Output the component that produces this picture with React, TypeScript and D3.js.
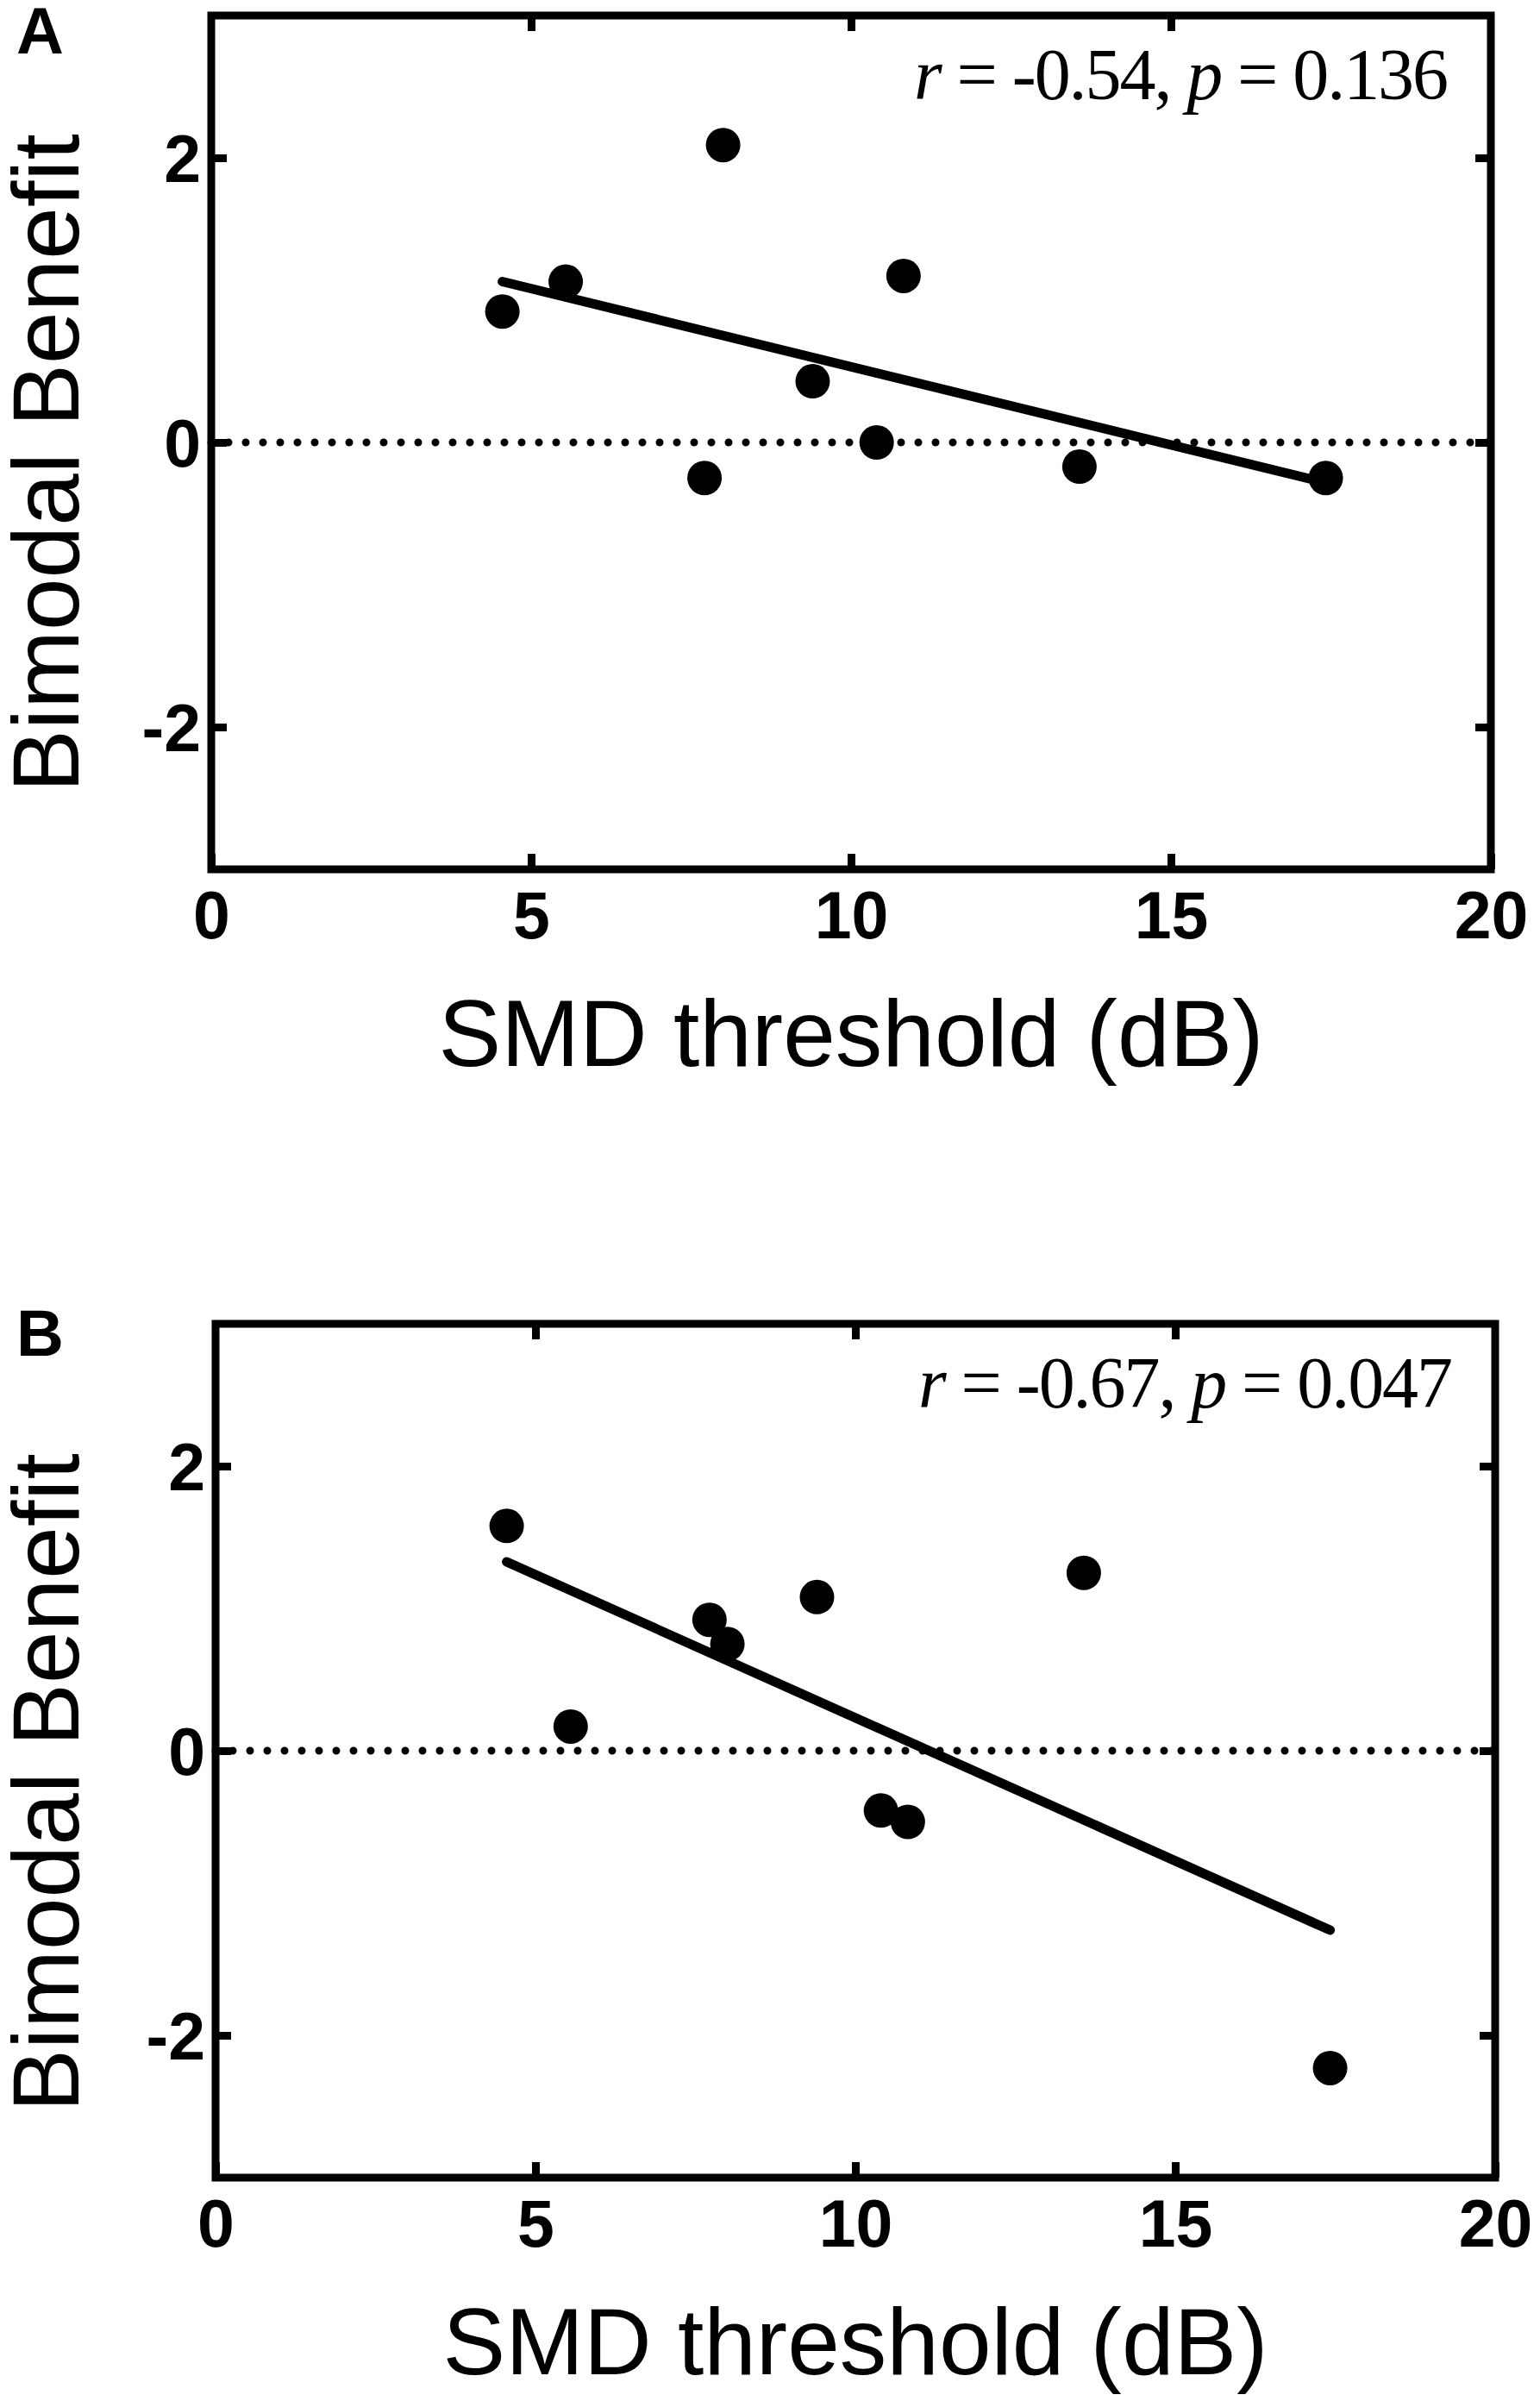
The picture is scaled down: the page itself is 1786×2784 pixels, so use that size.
import { useEffect, useRef } from 'react';
import * as d3 from 'd3';

// Panel A
const smdA = [4.55, 5.54, 8.0, 7.71, 9.4, 10.4, 10.82, 13.57, 17.42];
const benefitA = [0.92, 1.13, 2.09, -0.25, 0.43, 0.0, 1.17, -0.17, -0.25];
// Panel B
const smdB = [4.55, 5.55, 7.72, 8.0, 9.4, 10.4, 10.82, 13.57, 17.42];
const benefitB = [1.58, 0.17, 0.92, 0.75, 1.08, -0.42, -0.5, 1.25, -2.23];

const panelLabels = ['A', 'B'];
const rValues = ['-0.54', '-0.67'];
const pValues = ['0.136', '0.047'];

const xTicks = [0, 5, 10, 15, 20];
const yTicks = [-2, 0, 2];
const xTitle = 'SMD threshold (dB)';
const yTitle = 'Bimodal Benefit';

const W = 1786;
const H = 2784;
const plotW = 1484;
const plotH = 990;
const layout = [
  { left: 245, top: 18, labelY: 62, yTitleY: 537 },
  { left: 250, top: 1535, labelY: 1572, yTitleY: 2067 },
];

const SANS = '"Liberation Sans", Arial, sans-serif';
const SERIF = '"Liberation Serif", "Times New Roman", serif';

// least-squares fit across the observed x range
function fit(xs: number[], ys: number[]) {
  const mx = d3.mean(xs) as number;
  const my = d3.mean(ys) as number;
  const sxy = d3.sum(xs, (x, i) => (x - mx) * (ys[i] - my));
  const sxx = d3.sum(xs, x => (x - mx) ** 2);
  const slope = sxy / sxx;
  const [x0, x1] = d3.extent(xs) as [number, number];
  return [
    { x: x0, y: my + slope * (x0 - mx) },
    { x: x1, y: my + slope * (x1 - mx) },
  ];
}

export default function App() {
  const svgRef = useRef<SVGSVGElement>(null);

  useEffect(() => {
    if (!svgRef.current) return;
    const svg = d3.select(svgRef.current);
    svg.selectAll('*').remove();

    const series = [
      { xs: smdA, ys: benefitA },
      { xs: smdB, ys: benefitB },
    ];

    series.forEach((s, k) => {
      const L = layout[k];
      const x = d3.scaleLinear().domain([0, 20]).range([0, plotW]);
      const y = d3.scaleLinear().domain([-3, 3]).range([plotH, 0]);

      // Panel letter
      svg.append('text')
        .attr('x', 19)
        .attr('y', L.labelY)
        .attr('font-family', SANS)
        .attr('font-weight', 'bold')
        .attr('font-size', 76)
        .text(panelLabels[k]);

      // Y title
      svg.append('text')
        .attr('transform', `translate(91,${L.yTitleY}) rotate(-90)`)
        .attr('text-anchor', 'middle')
        .attr('font-family', SANS)
        .attr('font-size', 109)
        .text(yTitle);

      const g = svg.append('g').attr('transform', `translate(${L.left},${L.top})`);

      // zero reference line
      g.append('line')
        .attr('x1', x(0))
        .attr('x2', x(20))
        .attr('y1', y(0))
        .attr('y2', y(0))
        .attr('stroke', '#000')
        .attr('stroke-width', 9)
        .attr('stroke-linecap', 'round')
        .attr('stroke-dasharray', '0 20');

      const styleAxis = (sel: d3.Selection<SVGGElement, unknown, null, undefined>) => {
        sel.select('.domain').remove();
        sel.selectAll('.tick line').attr('stroke', '#000').attr('stroke-width', 9);
        sel.selectAll('.tick text')
          .attr('fill', '#000')
          .attr('font-family', SANS)
          .attr('font-weight', 'bold')
          .attr('font-size', 77);
      };

      const plain = (d: d3.NumberValue) => String(d);

      g.append('g')
        .attr('transform', `translate(0,${plotH})`)
        .call(d3.axisBottom(x).tickValues(xTicks).tickSize(-18).tickPadding(25).tickFormat(plain))
        .call(styleAxis);

      g.append('g')
        .call(d3.axisTop(x).tickValues(xTicks.slice(1, -1)).tickSize(-18).tickFormat(() => ''))
        .call(styleAxis);

      const yAxis = g.append('g')
        .call(d3.axisLeft(y).tickValues(yTicks).tickSize(-18).tickPadding(12).tickFormat(plain))
        .call(styleAxis);
      yAxis.selectAll('.tick text').attr('dy', '0.36em');

      g.append('g')
        .attr('transform', `translate(${plotW},0)`)
        .call(d3.axisRight(y).tickValues(yTicks).tickSize(-18).tickFormat(() => ''))
        .call(styleAxis);

      // frame
      g.append('rect')
        .attr('width', plotW)
        .attr('height', plotH)
        .attr('fill', 'none')
        .attr('stroke', '#000')
        .attr('stroke-width', 9);

      // regression line
      const line = d3.line<{ x: number; y: number }>()
        .x(d => x(d.x))
        .y(d => y(d.y));
      g.append('path')
        .datum(fit(s.xs, s.ys))
        .attr('d', line)
        .attr('fill', 'none')
        .attr('stroke', '#000')
        .attr('stroke-width', 11)
        .attr('stroke-linecap', 'round');

      // points
      g.selectAll('.dot')
        .data(s.xs.map((v, i) => ({ x: v, y: s.ys[i] })))
        .enter().append('circle')
        .attr('cx', d => x(d.x))
        .attr('cy', d => y(d.y))
        .attr('r', 20)
        .attr('fill', '#000');

      // stats annotation
      const t = g.append('text')
        .attr('x', plotW - 49)
        .attr('y', 97)
        .attr('text-anchor', 'end')
        .attr('font-family', SERIF)
        .attr('font-size', 84)
        .attr('textLength', 620)
        .attr('lengthAdjust', 'spacing');
      t.append('tspan').attr('font-style', 'italic').text('r');
      t.append('tspan').text(` = ${rValues[k]}, `);
      t.append('tspan').attr('font-style', 'italic').text('p');
      t.append('tspan').text(` = ${pValues[k]}`);

      // X title
      g.append('text')
        .attr('x', plotW / 2)
        .attr('y', plotH + 228)
        .attr('text-anchor', 'middle')
        .attr('font-family', SANS)
        .attr('font-size', 109)
        .text(xTitle);
    });
  }, []);

  return (
    <svg
      ref={svgRef}
      width={W}
      height={H}
      style={{ position: 'absolute', left: 0, top: 0, background: '#fff' }}
    />
  );
}
